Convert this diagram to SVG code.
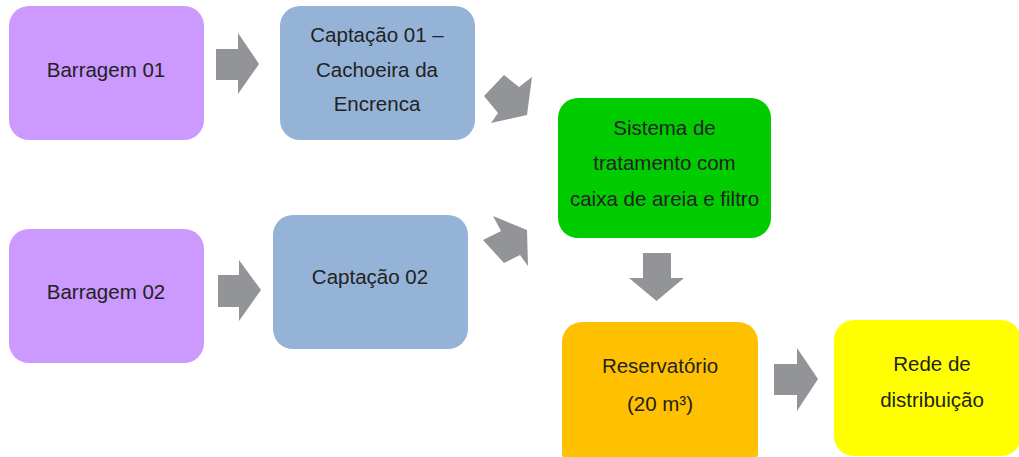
<svg xmlns="http://www.w3.org/2000/svg" width="1019" height="457" viewBox="0 0 1019 457">
<style>
.t{font-family:"Liberation Sans",Arial,sans-serif;font-size:20.5px;fill:#222;text-anchor:middle}
.a{fill:#939497}
</style>
<rect width="1019" height="457" fill="#fff"/>
<g id="connectors">
<polygon class="a" points="216,49 238,49 238,33 259,64 238,94 238,80 216,80"/>
<polygon class="a" points="218,275 239,275 239,260 261,290 239,321 239,307 218,307"/>
<polygon class="a" points="774,364 797,364 797,348 818,379 797,411 797,395 774,395"/>
<polygon class="a" points="643,253 671,253 671,278 684,278 656.5,301 629,278 643,278"/>
<polygon class="a" points="484,96 504,75 519,87 532,77 527,115 491,123 498,113"/>
<polygon class="a" points="493,216 527,230 528,266 520,255 504,263 483,240 501,231"/>
</g>
<g id="barragem01"><rect x="9" y="6" width="195" height="134" rx="20" fill="#CC99FF"/><text class="t" x="106" y="77">Barragem 01</text></g>
<g id="captacao01"><rect x="280" y="6" width="195" height="134" rx="20" fill="#95B3D7"/><text class="t" x="377" y="42">Captação 01 –</text><text class="t" x="377" y="77">Cachoeira da</text><text class="t" x="377" y="111">Encrenca</text></g>
<g id="barragem02"><rect x="9" y="229" width="195" height="134" rx="20" fill="#CC99FF"/><text class="t" x="106" y="299">Barragem 02</text></g>
<g id="captacao02"><rect x="273" y="215" width="195" height="134" rx="20" fill="#95B3D7"/><text class="t" x="370" y="284">Captação 02</text></g>
<g id="sistema"><rect x="558" y="98" width="213" height="140" rx="20" fill="#00CC00"/><text class="t" x="664.5" y="135">Sistema de</text><text class="t" x="664.5" y="170">tratamento com</text><text class="t" x="664.5" y="206">caixa de areia e filtro</text></g>
<g id="reservatorio"><rect x="562" y="322" width="196" height="150" rx="20" fill="#FFC000"/><text class="t" x="660" y="373">Reservatório</text><text class="t" x="660" y="411">(20 m³)</text></g>
<g id="rede"><rect x="834" y="320" width="187" height="136" rx="20" fill="#FFFF00"/><text class="t" x="932" y="371">Rede de</text><text class="t" x="932" y="407">distribuição</text></g>
</svg>
